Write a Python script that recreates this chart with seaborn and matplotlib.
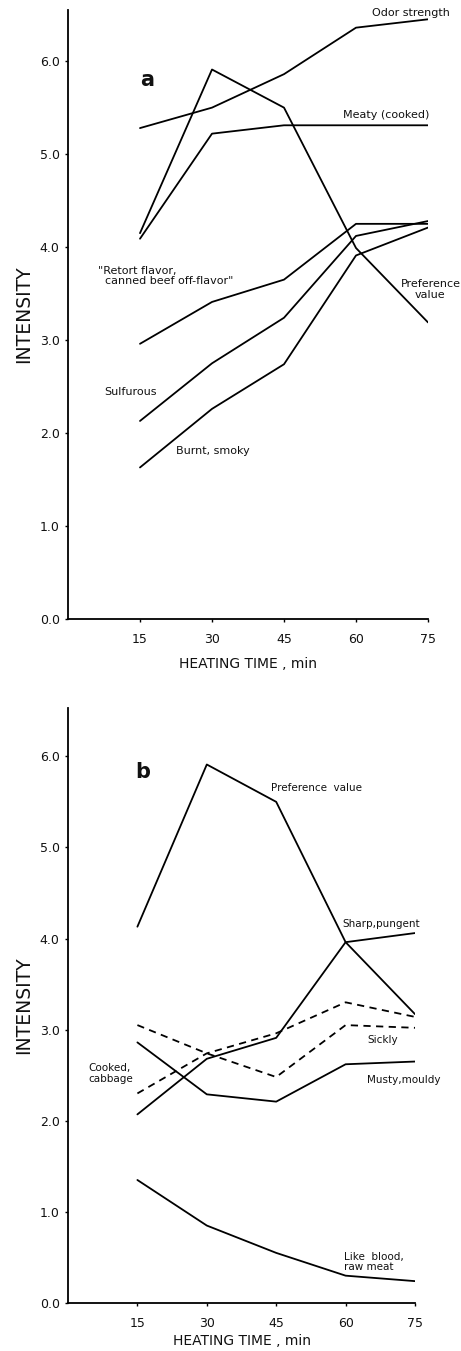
import matplotlib
matplotlib.use("Agg")
import matplotlib.pyplot as plt
import seaborn as sns
import pandas as pd

sns.set_theme(style="white")
plt.rcParams['font.family'] = ['DejaVu Sans']

time = [15, 30, 45, 60, 75]

# Panel a
a_odor = [5.28, 5.50, 5.86, 6.36, 6.45]
a_meaty = [4.09, 5.22, 5.31, 5.31, 5.31]
a_pref = [4.15, 5.91, 5.50, 3.99, 3.19]
a_retort = [2.96, 3.41, 3.65, 4.25, 4.25]
a_sulf = [2.13, 2.75, 3.24, 4.12, 4.28]
a_burnt = [1.63, 2.26, 2.74, 3.91, 4.21]

# Panel b
b_pref = [4.13, 5.91, 5.50, 3.96, 3.17]
b_sharp = [2.07, 2.68, 2.91, 3.96, 4.06]
b_musty = [2.86, 2.29, 2.21, 2.62, 2.65]
b_blood = [1.35, 0.85, 0.55, 0.30, 0.24]
b_cabbage = [2.30, 2.74, 2.96, 3.30, 3.14]
b_sickly = [3.05, 2.74, 2.48, 3.05, 3.02]

yticks = [0.0, 1.0, 2.0, 3.0, 4.0, 5.0, 6.0]
ytick_labels = ["0.0", "1.0", "2.0", "3.0", "4.0", "5.0", "6.0"]
xticks = [15, 30, 45, 60, 75]
xtick_labels = ["15", "30", "45", "60", "75"]

W, H = 461, 1351
fig = plt.figure(figsize=(W / 100, H / 100), dpi=100)

def rect(l, t, r, b):
    return [l / W, 1 - b / H, (r - l) / W, (b - t) / H]

ax_a = fig.add_axes(rect(68, 10, 428, 619))
ax_b = fig.add_axes(rect(68, 708, 415, 1303))

def style(ax, ymax, xlabelpad):
    ax.set_xlim(0, 75)
    ax.set_ylim(0, ymax)
    ax.set_xticks(xticks)
    ax.set_xticklabels(xtick_labels)
    ax.set_yticks(yticks)
    ax.set_yticklabels(ytick_labels)
    for s in ["top", "right"]:
        ax.spines[s].set_visible(False)
    for s in ["left", "bottom"]:
        ax.spines[s].set_color("black")
        ax.spines[s].set_linewidth(1.3)
    ax.tick_params(axis="both", length=2, width=1, color="black",
                   labelsize=9, labelcolor="#111111", pad=4, left=True, bottom=True)
    ax.tick_params(axis="x", pad=8)
    ax.set_xlabel("HEATING TIME , min", fontsize=10, color="#111111", labelpad=xlabelpad)
    ax.set_ylabel("INTENSITY", fontsize=13.5, color="#111111", labelpad=5, fontweight="medium")
    ax.set_facecolor("white")
    ax.grid(False)

def draw(ax, vals, dashed=False):
    df = pd.DataFrame({"t": time, "v": vals})
    sns.lineplot(data=df, x="t", y="v", ax=ax, color="black", linewidth=1.3,
                 linestyle=(0, (4, 3)) if dashed else "-")

for v in [a_odor, a_meaty, a_pref, a_retort, a_sulf, a_burnt]:
    draw(ax_a, v)
style(ax_a, 6.55, 8)

for v in [b_pref, b_sharp, b_musty, b_blood]:
    draw(ax_b, v)
for v in [b_cabbage, b_sickly]:
    draw(ax_b, v, dashed=True)
style(ax_b, 6.53, 3)

ta = dict(fontsize=8, color="#111111", clip_on=False)
ax_a.text(15, 5.80, "a", fontsize=15, fontweight="bold", ha="left", va="center", color="#111111")
ax_a.text(63.3, 6.52, "Odor strength", ha="left", va="center", **ta)
ax_a.text(57.3, 5.42, "Meaty (cooked)", ha="left", va="center", **ta)
ax_a.text(6.2, 3.69, "\"Retort flavor,\n  canned beef off-flavor\"", ha="left", va="center", linespacing=1.1, **ta)
ax_a.text(75.5, 3.54, "Preference\nvalue", ha="center", va="center", linespacing=1.1, **ta)
ax_a.text(7.5, 2.44, "Sulfurous", ha="left", va="center", **ta)
ax_a.text(22.5, 1.81, "Burnt, smoky", ha="left", va="center", **ta)

tb = dict(fontsize=7.5, color="#111111", clip_on=False)
ax_b.text(14.6, 5.83, "b", fontsize=15, fontweight="bold", ha="left", va="center", color="#111111")
ax_b.text(43.8, 5.65, "Preference  value", ha="left", va="center", **tb)
ax_b.text(59.4, 4.16, "Sharp,pungent", ha="left", va="center", **tb)
ax_b.text(64.8, 2.89, "Sickly", ha="left", va="center", **tb)
ax_b.text(64.6, 2.45, "Musty,mouldy", ha="left", va="center", **tb)
ax_b.text(4.3, 2.52, "Cooked,\ncabbage", ha="left", va="center", linespacing=1.1, **tb)
ax_b.text(59.6, 0.45, "Like  blood,\nraw meat", ha="left", va="center", linespacing=1.1, **tb)

fig.savefig("out.png", dpi=100, facecolor="white")
